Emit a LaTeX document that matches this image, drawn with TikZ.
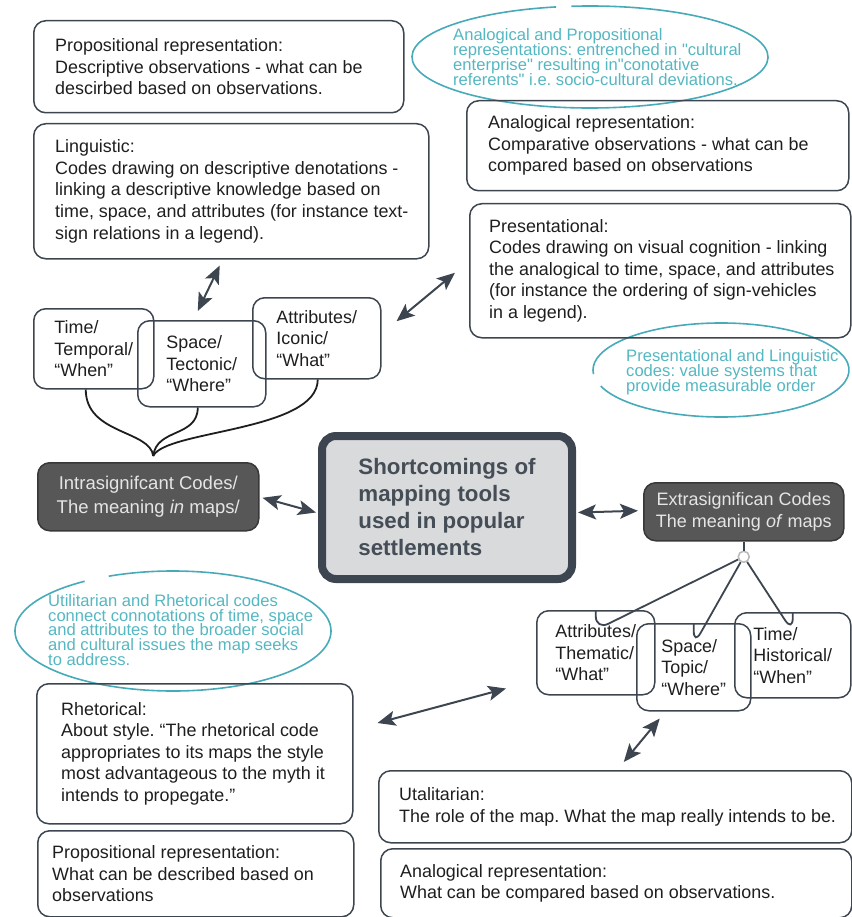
\documentclass[tikz,border=0pt]{standalone}
\usepackage{fontspec}
\setmainfont{Liberation Sans}
\usepackage{tikz}
\usetikzlibrary{positioning,arrows.meta,calc}

\definecolor{edgegray}{HTML}{3D4650}
\definecolor{inkgray}{HTML}{1E1E1E}
\definecolor{noteteal}{HTML}{47AAB8}
\definecolor{notetext}{HTML}{55B7C1}
\definecolor{darkfill}{HTML}{575757}
\definecolor{darkedge}{HTML}{383838}
\definecolor{mainfill}{HTML}{D9DADC}
\definecolor{maintext}{HTML}{454D56}

\begin{document}
\frenchspacing
\begin{tikzpicture}[x=1pt, y=-1pt,
                    card/.style={draw=edgegray, line width=1.5pt, rounded corners=12pt, anchor=north west, align=left, inner sep=0pt, text=inkgray, font=\fontsize{17.9}{21.6}\selectfont},
                    cardtext/.style={anchor=west, inner sep=0pt, align=left, text=inkgray, font=\fontsize{17.9}{21.6}\selectfont},
                    darkbox/.style={draw=darkedge, fill=darkfill, line width=1.5pt, rounded corners=12pt, anchor=north west, align=center, inner sep=0pt, text=white!90!black},
                    mainbox/.style={draw=edgegray, fill=mainfill, line width=8pt, rounded corners=14pt, anchor=north west, align=left, text=maintext, font=\bfseries\fontsize{22.3}{27}\selectfont},
                    note/.style={anchor=west, inner sep=0pt, align=left, text=notetext, font=\fontsize{16.6}{14.8}\selectfont, execute at begin node=\setlength{\lineskiplimit}{-20pt}},
                    ring/.style={draw=noteteal, line width=1.6pt},
                    link/.style={<->, >={Stealth[length=18pt,width=15pt,inset=4pt]}, draw=edgegray, line width=2pt},
                    branch/.style={draw=inkgray, line width=1.8pt},
                    hubdot/.style={circle, draw=gray!55, fill=white, line width=1.5pt, minimum size=11pt, inner sep=0pt},
                ]
    \useasboundingbox (0,0) rectangle (851,917);

    \draw[ring] (590,57) ++(101:178pt and 51pt) arc[start angle=101, end angle=456, x radius=178pt, y radius=51pt];
    \draw[ring] (721,370) ++(200:128pt and 47pt) arc[start angle=200, end angle=545, x radius=128pt, y radius=47pt];
    \draw[ring] (173,631) ++(124:158pt and 60pt) arc[start angle=124, end angle=474, x radius=158pt, y radius=60pt];

    \node[note] (noteAP) at (453,57) {Analogical and Propositional\\representations: entrenched in \textquotedbl cultural\\enterprise\textquotedbl{} resulting in\textquotedbl conotative\\referents\textquotedbl{} i.e. socio-cultural deviations.};
    \node[note] (notePL) at (626,372) {Presentational and Linguistic\\codes: value systems that\\provide measurable order};
    \node[note] (noteUR) at (48,630) {Utilitarian and Rhetorical codes\\connect connotations of time, space\\and attributes to the broader social\\and cultural issues the map seeks\\to address.};

    \node[card, minimum width=370pt, minimum height=92pt] (propT) at (33,20) {};
    \node[cardtext] (propTtext) at ([xshift=22]propT.west) {Propositional representation:\\Descriptive observations - what can be\\descirbed based on observations.};
    \node[card, minimum width=395pt, minimum height=135pt] (ling) at (33,123) {};
    \node[cardtext] (lingtext) at ([xshift=22]ling.west) {Linguistic:\\Codes drawing on descriptive denotations -\\linking a descriptive knowledge based on\\time, space, and attributes (for instance text-\\sign relations in a legend).};
    \node[card, minimum width=382pt, minimum height=90pt] (analogT) at (466,100) {};
    \node[cardtext] (analogTtext) at ([xshift=22]analogT.west) {Analogical representation:\\Comparative observations - what can be\\compared based on observations};
    \node[card, minimum width=381pt, minimum height=134pt] (present) at (469,203) {};
    \node[cardtext] (presenttext) at ([xshift=20]present.west) {Presentational:\\Codes drawing on visual cognition - linking\\the analogical to time, space, and attributes\\(for instance the ordering of sign-vehicles\\in a legend).};

    \node[card, minimum width=120pt, minimum height=80pt] (timeL) at (33,308) {Time/\\Temporal/\\“When”};
    \node[card, minimum width=128pt, minimum height=86pt] (spaceL) at (137,320) {Space/\\Tectonic/\\“Where”};
    \node[card, minimum width=128pt, minimum height=81pt] (attrL) at (252,297) {Attributes/\\Iconic/\\“What”};

    \node[darkbox, minimum width=221pt, minimum height=68pt, font=\fontsize{18.5}{24.5}\selectfont] (intra) at (37,462) {Intrasignifcant Codes/\\The meaning \textit{in} maps/};
    \node[mainbox, minimum width=250pt, minimum height=143pt] (main) at (318,432) {Shortcomings of\\mapping tools\\used in popular\\settlements};
    \node[darkbox, minimum width=200pt, minimum height=58pt, font=\fontsize{18}{22}\selectfont] (extra) at (643,482) {Extrasignifican Codes\\The meaning \textit{of} maps};
    \node[hubdot, below=9pt of extra] (hub) {};

    \node[card, minimum width=118pt, minimum height=84pt] (attrR) at (536,610) {Attributes/\\Thematic/\\“What”};
    \node[card, minimum width=114pt, minimum height=87pt] (spaceR) at (636,623) {Space/\\Topic/\\“Where”};
    \node[card, minimum width=116pt, minimum height=85pt] (timeR) at (734,612) {Time/\\Historical/\\“When”};

    \node[card, minimum width=316pt, minimum height=140pt] (rhet) at (36,683) {};
    \node[cardtext] (rhettext) at ([xshift=25]rhet.west) {Rhetorical:\\About style. “The rhetorical code\\appropriates to its maps the style\\most advantageous to the myth it\\intends to propegate.”};
    \node[card, minimum width=316pt, minimum height=86pt] (propB) at (37,830) {};
    \node[cardtext] (propBtext) at ([xshift=15]propB.west) {Propositional representation:\\What can be described based on\\observations};
    \node[card, minimum width=473pt, minimum height=72pt] (utal) at (378,770) {};
    \node[cardtext] (utaltext) at ([xshift=21]utal.west) {Utalitarian:\\The role of the map. What the map really intends to be.};
    \node[card, minimum width=471pt, minimum height=69pt] (analogB) at (380,848) {};
    \node[cardtext] (analogBtext) at ([xshift=20]analogB.west) {Analogical representation:\\What can be compared based on observations.};

    \coordinate (jL) at ([shift={(5,-6)}]intra.north);
    \draw[branch] ([xshift=-8]timeL.south) .. controls +(0,45) and +(-3,-26) .. (jL);
    \draw[branch] ([xshift=-4]spaceL.south) .. controls +(0,30) and +(3,-28) .. (jL);
    \draw[branch] ([xshift=1]attrL.south) .. controls +(0,52) and +(12,-26) .. (jL);

    \draw[branch, draw=edgegray] (extra.south) -- (hub);
    \draw[branch, draw=edgegray, rounded corners=14pt] (hub) -- ([yshift=-20]attrR.north) -- (attrR.north);
    \draw[branch, draw=edgegray, rounded corners=14pt] (hub) -- ([yshift=-22]spaceR.north) -- (spaceR.north);
    \draw[branch, draw=edgegray, rounded corners=14pt] (hub) -- ([yshift=-20]timeR.north) -- (timeR.north);

    \draw[link] ([shift={(-11.5,6)}]ling.south) -- ([shift={(-4,-9)}]spaceL.north);
    \draw[link] ([shift={(-14,2)}]present.west) -- ([shift={(15,-17)}]attrL.east);
    \draw[link] ([shift={(3,1)}]intra.east) -- ([shift={(-2,5)}]main.west);
    \draw[link] ([shift={(2,5)}]main.east) -- ([shift={(-5,-1)}]extra.west);
    \draw[link] ([shift={(24,40)}]rhet.north east) -- ([shift={(-30,-7)}]attrR.south west);
    \draw[link] ([shift={(-34,7)}]spaceR.south) -- ([shift={(8.5,-8)}]utal.north);
\end{tikzpicture}
\end{document}
